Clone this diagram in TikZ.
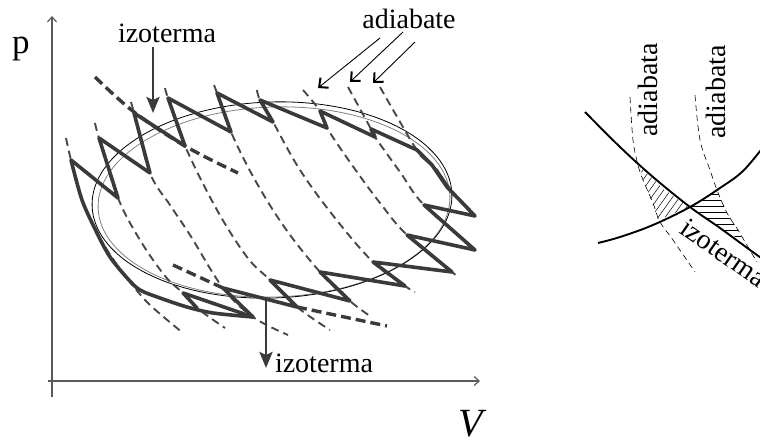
\documentclass[tikz,border=0pt]{standalone}
\usepackage{fontspec}
\setmainfont{Liberation Serif}
\newfontfamily\lbl{Liberation Serif}
\usetikzlibrary{arrows.meta}
\definecolor{zz}{HTML}{3A3A3A}
\definecolor{dd}{HTML}{484848}
\definecolor{ax}{HTML}{5A5A5A}
\begin{document}
\begin{tikzpicture}[x=1pt,y=-1pt,
  zig/.style={draw=zz,line width=3.6pt,line join=round,line cap=round},
  adia/.style={draw=dd,line width=1.9pt,dash pattern=on 8pt off 5pt},
  isod/.style={draw=zz,line width=3.4pt,dash pattern=on 10pt off 5pt},
  ell/.style={draw=black,line width=0.8pt},
  axisline/.style={draw=ax,line width=1.2pt,-{Straight Barb[length=5pt,width=9pt]}},
  lab/.style={font=\lbl\fontsize{28}{32}\selectfont,inner sep=0pt},
  isoarrow/.style={draw=zz,line width=2.8pt,-{Stealth[length=16pt,width=13pt,inset=3pt]}},
  adarrow/.style={draw=black,line width=0.9pt,-{Straight Barb[length=7pt,width=13pt,line width=2pt]}},
  thick curve/.style={draw=black,line width=1.9pt},
  thin dash/.style={draw=black,line width=0.6pt,dash pattern=on 6pt off 4pt},
  hatchline/.style={draw=black,line width=0.5pt}]
\useasboundingbox (0,0) rectangle (760,443);
\clip (0,0) rectangle (760,443);

% ---------- axes ----------
\coordinate (ybot) at (52,397);
\coordinate (ytop) at (52,16);
\coordinate (xbeg) at (48,381);
\coordinate (xend) at (480,381);
\draw[axisline] (ybot) -- (ytop);
\draw[axisline] (xbeg) -- (xend);
\node[font=\lbl\fontsize{35}{40}\selectfont,inner sep=0pt,anchor=base] (plab) at (21,54) {p};
\node[font=\itshape\fontsize{40}{44}\selectfont,inner sep=0pt,anchor=base] (vlab) at (471,436) {V};

% ---------- ellipse ----------
\draw[draw=gray,line width=0.8pt,rotate around={2:(274,202)}] (274,202) ellipse [x radius=176, y radius=95];
\draw[ell,rotate around={2:(272,200)}] (272,200) ellipse [x radius=180, y radius=98];

% ---------- adiabats (thin dashed) ----------
\draw[adia] plot[smooth,tension=0.6] coordinates {(66,138) (71,160) (82,200) (97,233) (115,262) (130,282) (150,305) (183,333)};
\draw[adia] plot[smooth,tension=0.6] coordinates {(95,123) (99,138) (118,198) (140,240) (165,276) (183,293) (197,308) (225,328)};
\draw[adia] plot[smooth,tension=0.6] coordinates {(131,102) (134,113) (150,173) (170,205) (190,235) (223,288) (253,317) (288,335)};
\draw[adia] plot[smooth,tension=0.6] coordinates {(165,88) (168,98) (185,146) (217,210) (247,257) (270,280) (297,307) (330,330)};
\draw[adia] plot[smooth,tension=0.6] coordinates {(214,85) (217,93) (231,132) (255,180) (285,228) (320,272) (350,301) (370,316)};
\draw[adia] plot[smooth,tension=0.6] coordinates {(257,90) (260,100) (273,122) (300,170) (335,218) (373,262) (405,286) (415,292)};
\draw[adia] plot[smooth,tension=0.6] coordinates {(303,90) (320,111) (327,128) (352,165) (380,203) (407,235) (452,272) (458,277)};
\draw[adia] plot[smooth,tension=0.6] coordinates {(348,87) (371,129) (375,137) (400,172) (424,205) (475,250)};
\draw[adia] plot[smooth,tension=0.6] coordinates {(380,87) (396,115) (417,150) (432,165) (447,187) (475,216)};

% ---------- isotherms (thick dashed) ----------
\draw[isod] plot[smooth,tension=0.6] coordinates {(95,77) (134,112) (185,146) (238,173)};
\draw[isod] (173,265) -- (223,288);
\draw[isod] (297,307) -- (387,326);

% ---------- zigzag cycle ----------
\draw[zig] (71,160) -- (118,198) -- (99,138) -- (150,173) -- (134,113) -- (185,146)
  -- (168,98) -- (231,132) -- (217,93) -- (273,122) -- (260,100) -- (327,128)
  -- (320,111) -- (375,137) -- (371,129) -- (417,150) -- (432,165) -- (447,187)
  -- (475,216) -- (424,205) -- (475,250) -- (407,235) -- (452,272) -- (373,262)
  -- (405,286) -- (320,272) -- (350,301) -- (270,280) -- (297,307) -- (223,288)
  -- (253,317);
\draw[zig] plot[smooth,tension=0.5] coordinates {(253,317) (213,313) (187,307) (160,298) (140,290) (128,279) (110,257) (97,233) (82,200) (71,160)};
\draw[zig] (253,317) -- (183,293) -- (197,308);
\draw[draw=zz,line width=2.2pt] (420,155) -- (437,170) -- (452,192) -- (470,210);

% ---------- labels left ----------
\node[lab,anchor=base] (iztop) at (167,43) {izoterma};
\node[lab,anchor=base] (izbot) at (324,373) {izoterma};
\node[lab,anchor=base] (adlab) at (409,29) {adiabate};
\coordinate (iz1a) at (153,47);
\coordinate (iz1b) at (153,113);
\coordinate (iz2a) at (266,297);
\coordinate (iz2b) at (266,368);
\draw[isoarrow] (iz1a) -- (iz1b);
\draw[isoarrow] (iz2a) -- (iz2b);
\coordinate (ad1a) at (380,38);
\coordinate (ad1b) at (318,88);
\coordinate (ad2a) at (403,32);
\coordinate (ad2b) at (350,82);
\coordinate (ad3a) at (415,42);
\coordinate (ad3b) at (373,83);
\draw[adarrow] (ad1a) -- (ad1b);
\draw[adarrow] (ad2a) -- (ad2b);
\draw[adarrow] (ad3a) -- (ad3b);

% ---------- right diagram ----------
\begin{scope}
\clip (640,167) -- (665,190) -- (690,207) -- (675,213) -- (658,220) -- (652,203) -- (644,182) -- cycle;
\foreach \k in {0,...,16} \draw[hatchline] (586+7*\k,240) -- ++(55,-77);
\end{scope}
\begin{scope}
\clip (690,207) -- (704,198) -- (717,190) -- (727,213) -- (738,230) -- (744,242) -- (720,228) -- cycle;
\foreach \yy in {194,200,...,242} \draw[hatchline] (685,\yy) -- (750,\yy);
\end{scope}
\draw[thin dash] plot[smooth,tension=0.6] coordinates {(630,97) (633,140) (638,165) (643,180) (653,203) (660,222) (673,240) (695,272)};
\draw[thin dash] plot[smooth,tension=0.6] coordinates {(695,95) (700,140) (710,170) (717,190) (727,213) (738,230) (748,247) (757,262)};
\draw[thick curve] plot[smooth,tension=0.6] coordinates {(585,112) (620,147) (653,177) (690,207) (720,228) (750,250) (764,260)};
\draw[thick curve] plot[smooth,tension=0.6] coordinates {(598,243) (620,237) (653,225) (690,207) (720,188) (743,171) (764,146)};
\node[lab,rotate=90,anchor=base] (ad1) at (657,90) {adiabata};
\node[lab,rotate=90,anchor=base] (ad2) at (725,92) {adiabata};
\node[lab,rotate=-35,anchor=base west] (iz3) at (678,232) {izoterma};
\end{tikzpicture}
\end{document}
